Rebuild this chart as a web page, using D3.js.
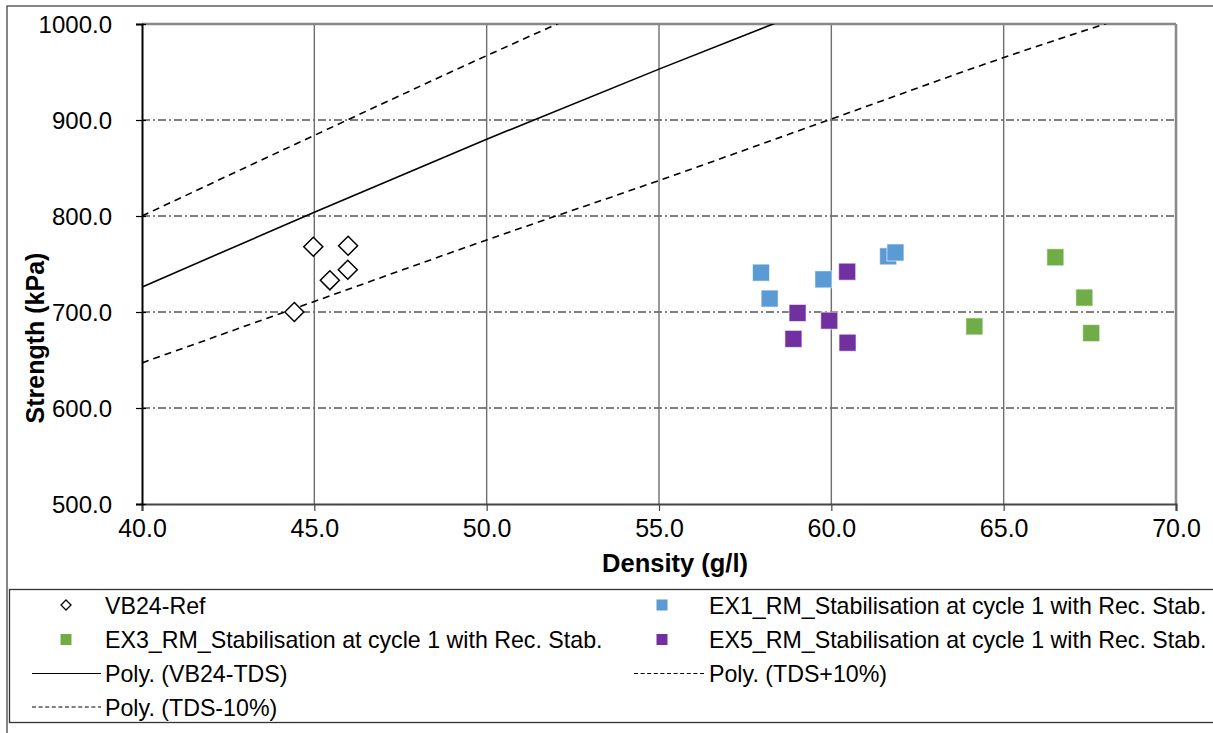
<!DOCTYPE html>
<html>
<head>
<meta charset="utf-8">
<script src="https://cdn.jsdelivr.net/npm/d3@7/dist/d3.min.js"></script>
<style>
  html, body { margin: 0; padding: 0; background: #fff; }
  svg { display: block; font-family: "Liberation Sans", Arial, sans-serif; }
</style>
</head>
<body>
<svg id="chart" width="1213" height="733"></svg>
<script>
// Measured samples: density (g/l) vs strength (kPa)
const refDensity = [44.97, 45.98, 45.45, 45.97, 44.42];
const refStrength = [768, 769, 733, 744, 700];

const ex1Density = [57.96, 58.21, 59.77, 61.65, 61.86];
const ex1Strength = [741, 714, 734, 758, 762];

const ex3Density = [64.15, 66.50, 67.34, 67.54];
const ex3Strength = [685, 757, 715, 678];

const ex5Density = [60.46, 59.02, 59.94, 58.90, 60.47];
const ex5Strength = [742, 699, 691, 672, 668];

// Polynomial trend lines, sampled along the density axis
const trendDensity = [40, 45, 50, 55, 60, 65, 70];
const tdsStrength = [726, 804, 880, 953, 1024, 1092, 1158];
const tdsPlusStrength = [800, 884, 967, 1047, 1125, 1200, 1272];
const tdsMinusStrength = [647, 711, 775, 837, 901, 965, 1024];

const xTicks = [40, 45, 50, 55, 60, 65, 70];
const yTicks = [500, 600, 700, 800, 900, 1000];

const seriesNames = [
  "VB24-Ref",
  "EX1_RM_Stabilisation at cycle 1 with Rec. Stab.",
  "EX3_RM_Stabilisation at cycle 1 with Rec. Stab.",
  "EX5_RM_Stabilisation at cycle 1 with Rec. Stab.",
  "Poly. (VB24-TDS)",
  "Poly. (TDS+10%)",
  "Poly. (TDS-10%)"
];

const colEX1 = "#5b9bd5", colEX3 = "#70ad47", colEX5 = "#7030a0";

const svg = d3.select("#chart");
const W = 1213, H = 733;
const plot = { left: 142, right: 1176, top: 24, bottom: 504 };

const x = d3.scaleLinear().domain([40, 70]).range([plot.left, plot.right]);
const y = d3.scaleLinear().domain([500, 1000]).range([plot.bottom, plot.top]);

// outer chart frame
svg.append("rect").attr("x", 7).attr("y", 6).attr("width", W).attr("height", H)
  .attr("fill", "#fff").attr("stroke", "#444").attr("stroke-width", 1.3);

// clip for trend lines
svg.append("clipPath").attr("id", "plotclip").append("rect")
  .attr("x", plot.left).attr("y", plot.top)
  .attr("width", plot.right - plot.left).attr("height", plot.bottom - plot.top);

// horizontal grid (dash-dot)
svg.append("g").selectAll("line").data(yTicks.filter(v => v > 500 && v < 1000)).join("line")
  .attr("x1", plot.left).attr("x2", plot.right)
  .attr("y1", d => y(d)).attr("y2", d => y(d))
  .attr("stroke", "#000").attr("stroke-width", 1)
  .attr("stroke-dasharray", "8,3,2,3");

// vertical grid
svg.append("g").selectAll("line").data(xTicks.filter(v => v > 40 && v < 70)).join("line")
  .attr("x1", d => x(d)).attr("x2", d => x(d))
  .attr("y1", plot.top).attr("y2", plot.bottom)
  .attr("stroke", "#6e6e6e").attr("stroke-width", 1.4);

// top and right plot borders
svg.append("line").attr("x1", plot.left).attr("x2", plot.right)
  .attr("y1", plot.top).attr("y2", plot.top)
  .attr("stroke", "#888").attr("stroke-width", 2.5);
svg.append("line").attr("x1", plot.right).attr("x2", plot.right)
  .attr("y1", plot.top).attr("y2", plot.bottom)
  .attr("stroke", "#888").attr("stroke-width", 2.5);

// axes
const xAxis = d3.axisBottom(x).tickValues(xTicks).tickSize(7).tickFormat(d3.format(".1f"));
const yAxis = d3.axisLeft(y).tickValues(yTicks).tickSize(6).tickFormat(d3.format(".1f"));

const gx = svg.append("g").attr("transform", `translate(0,${plot.bottom})`).call(xAxis);
gx.select(".domain").attr("stroke", "#444").attr("stroke-width", 2.2);
gx.selectAll(".tick line").attr("stroke", "#444").attr("stroke-width", 1.2);
gx.selectAll(".tick text").attr("font-size", 25).attr("fill", "#000")
  .attr("font-family", "Liberation Sans, Arial, sans-serif").attr("dy", "1.02em").attr("y", 7);

const gy = svg.append("g").attr("transform", `translate(${plot.left},0)`).call(yAxis);
gy.select(".domain").attr("stroke", "#000").attr("stroke-width", 2);
gy.selectAll(".tick line").attr("stroke", "#000").attr("stroke-width", 1.2)
  .attr("x1", 4);
gy.selectAll(".tick text").attr("font-size", 24).attr("fill", "#000")
  .attr("font-family", "Liberation Sans, Arial, sans-serif").attr("x", -30).attr("dy", "0.36em");

// axis titles
svg.append("text").attr("x", (plot.left + plot.right) / 2 + 16).attr("y", 572)
  .attr("text-anchor", "middle").attr("font-size", 25.5).attr("font-weight", "bold")
  .text("Density (g/l)");
svg.append("text").attr("transform", `translate(44,${(plot.top + plot.bottom) / 2 + 74}) rotate(-90)`)
  .attr("text-anchor", "middle").attr("font-size", 25).attr("font-weight", "bold")
  .text("Strength (kPa)");

// trend lines
const trendLine = vals => d3.line()
  .x((d, i) => x(trendDensity[i]))
  .y(d => y(d))
  .curve(d3.curveMonotoneX)(vals);

const gTrend = svg.append("g").attr("clip-path", "url(#plotclip)");
gTrend.append("path").attr("d", trendLine(tdsStrength))
  .attr("fill", "none").attr("stroke", "#000").attr("stroke-width", 1.6);
gTrend.append("path").attr("d", trendLine(tdsPlusStrength))
  .attr("fill", "none").attr("stroke", "#000").attr("stroke-width", 1.6)
  .attr("stroke-dasharray", "7,5");
gTrend.append("path").attr("d", trendLine(tdsMinusStrength))
  .attr("fill", "none").attr("stroke", "#000").attr("stroke-width", 1.6)
  .attr("stroke-dasharray", "7,5");

// reference diamonds
const diamond = r => `M0,${-r}L${r},0L0,${r}L${-r},0Z`;
svg.append("g").selectAll("path").data(refDensity).join("path")
  .attr("transform", (d, i) => `translate(${x(d)},${y(refStrength[i])})`)
  .attr("d", diamond(9.5))
  .attr("fill", "#fff").attr("stroke", "#000").attr("stroke-width", 1.5);

// square markers
function squares(dens, str, color) {
  const s = 17;
  svg.append("g").selectAll("rect").data(dens).join("rect")
    .attr("x", d => x(d) - s / 2)
    .attr("y", (d, i) => y(str[i]) - s / 2)
    .attr("width", s).attr("height", s)
    .attr("fill", color).attr("stroke", "#fff").attr("stroke-opacity", 0.6).attr("stroke-width", 1);
}
squares(ex1Density, ex1Strength, colEX1);
squares(ex5Density, ex5Strength, colEX5);
squares(ex3Density, ex3Strength, colEX3);

// legend
const leg = svg.append("g");
leg.append("rect").attr("x", 9.5).attr("y", 589.5).attr("width", W).attr("height", 133)
  .attr("fill", "#fff").attr("stroke", "#333").attr("stroke-width", 1.3);

const legendItems = [
  { name: seriesNames[0], kind: "diamond", col: 0, row: 0 },
  { name: seriesNames[1], kind: "square", color: colEX1, col: 1, row: 0 },
  { name: seriesNames[2], kind: "square", color: colEX3, col: 0, row: 1 },
  { name: seriesNames[3], kind: "square", color: colEX5, col: 1, row: 1 },
  { name: seriesNames[4], kind: "solid", col: 0, row: 2 },
  { name: seriesNames[5], kind: "dash", col: 1, row: 2 },
  { name: seriesNames[6], kind: "dash", col: 0, row: 3 }
];
const rowY = [605, 639.5, 673.5, 707];
const colMarkX = [66, 662];
const colTextX = [105, 709];
const colLine = [[32, 101], [634, 705]];

legendItems.forEach(it => {
  const cy = rowY[it.row];
  if (it.kind === "diamond") {
    leg.append("path").attr("transform", `translate(${colMarkX[it.col]},${cy})`)
      .attr("d", diamond(5)).attr("fill", "#fff").attr("stroke", "#000").attr("stroke-width", 1.3);
  } else if (it.kind === "square") {
    leg.append("rect").attr("x", colMarkX[it.col] - 5.5).attr("y", cy - 5.5)
      .attr("width", 11).attr("height", 11).attr("fill", it.color);
  } else {
    leg.append("line").attr("x1", colLine[it.col][0]).attr("x2", colLine[it.col][1])
      .attr("y1", cy).attr("y2", cy).attr("stroke", "#000").attr("stroke-width", 1.1)
      .attr("stroke-dasharray", it.kind === "dash" ? "4,2.6" : null);
  }
  leg.append("text").attr("x", colTextX[it.col]).attr("y", cy + 8.5)
    .attr("font-size", 23.2).attr("fill", "#000").text(it.name);
});
</script>
</body>
</html>
